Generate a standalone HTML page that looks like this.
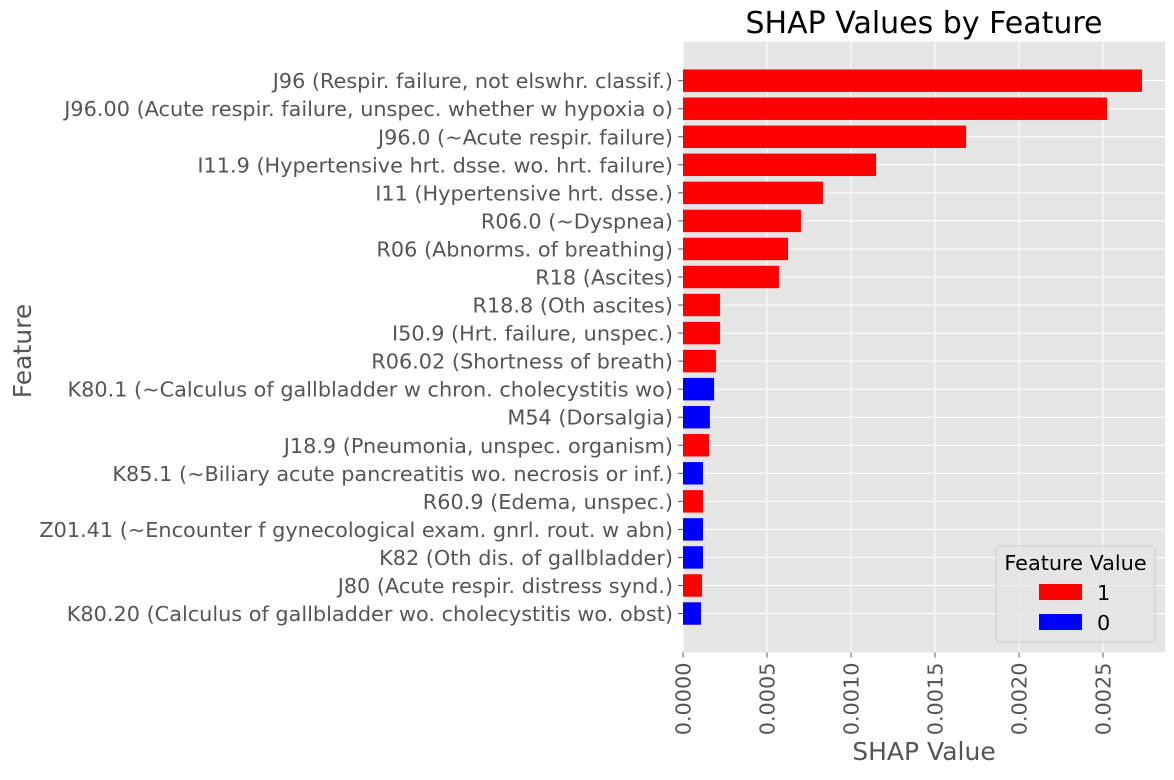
<!DOCTYPE html>
<html><head><meta charset="utf-8"><style>
body{margin:0;background:#fff;}
svg{font-family:"DejaVu Sans","Liberation Sans",sans-serif;}
</style></head><body>
<svg id="c" width="1174" height="775"></svg>
<script>
const features=["J96 (Respir. failure, not elswhr. classif.)","J96.00 (Acute respir. failure, unspec. whether w hypoxia o)","J96.0 (~Acute respir. failure)","I11.9 (Hypertensive hrt. dsse. wo. hrt. failure)","I11 (Hypertensive hrt. dsse.)","R06.0 (~Dyspnea)","R06 (Abnorms. of breathing)","R18 (Ascites)","R18.8 (Oth ascites)","I50.9 (Hrt. failure, unspec.)","R06.02 (Shortness of breath)","K80.1 (~Calculus of gallbladder w chron. cholecystitis wo)","M54 (Dorsalgia)","J18.9 (Pneumonia, unspec. organism)","K85.1 (~Biliary acute pancreatitis wo. necrosis or inf.)","R60.9 (Edema, unspec.)","Z01.41 (~Encounter f gynecological exam. gnrl. rout. w abn)","K82 (Oth dis. of gallbladder)","J80 (Acute respir. distress synd.)","K80.20 (Calculus of gallbladder wo. cholecystitis wo. obst)"];
const shapValues=[0.002732,0.002524,0.001685,0.001149,0.000833,0.000702,0.000625,0.000571,0.00022,0.00022,0.000196,0.000185,0.00016,0.000155,0.000119,0.000119,0.000119,0.000119,0.000113,0.000107];
const featureValues=[1,1,1,1,1,1,1,1,1,1,1,0,0,1,0,1,0,0,1,0];
const xTicks=[0,0.0005,0.001,0.0015,0.002,0.0025];
const xTickLabels=["0.0000","0.0005","0.0010","0.0015","0.0020","0.0025"];

const NS="http://www.w3.org/2000/svg";
const svg=document.getElementById('c');
const L=683,R=1165,T=41.7,B=652.5;
const x=v=>L+v/0.0005*84;
const n=features.length;
const unit=(B-T)/(n-1+0.8+2*0.99);
const y=i=>T+(0.99+0.4+i)*unit;
function mk(t,a,p){const e=document.createElementNS(NS,t);for(const k in a)e.setAttribute(k,a[k]);(p||svg).appendChild(e);return e;}

const bg=mk('rect',{x:L,y:T,width:R-L,height:B-T,fill:'#e5e5e5'});


xTicks.forEach((t,i)=>{
  const g=mk('line',{x1:x(t),x2:x(t),y1:T,y2:B,stroke:'#fff','stroke-width':1});
  
  
  const tk=mk('line',{x1:x(t),x2:x(t),y1:B,y2:B+5,stroke:'#555','stroke-width':1});
  
  
  const tx=mk('text',{x:0,y:0,transform:`translate(${x(t)+7.5},${B+10}) rotate(-90)`,'text-anchor':'end','font-size':20.8,fill:'#555'});
  tx.textContent=xTickLabels[i];
  
  
});
features.forEach((f,i)=>{
  const g=mk('line',{x1:L,x2:R,y1:y(i),y2:y(i),stroke:'#fff','stroke-width':1});
  
  
});
features.forEach((f,i)=>{
  const b=mk('rect',{x:L,y:y(i)-0.4*unit,width:x(shapValues[i])-L,height:0.8*unit,fill:featureValues[i]?'#ff0000':'#0000ff'});
  
  
  const tk=mk('line',{x1:L-5,x2:L,y1:y(i),y2:y(i),stroke:'#555','stroke-width':1});
  
  
  const t=mk('text',{x:L-10,y:y(i)+7.5,'text-anchor':'end','font-size':20.8,fill:'#555'});
  t.textContent=f;
  
  
});
const title=mk('text',{x:924,y:33,'text-anchor':'middle','font-size':30,fill:'#000'});
title.textContent='SHAP Values by Feature';


const xl=mk('text',{x:924,y:760,'text-anchor':'middle','font-size':25,fill:'#555'});
xl.textContent='SHAP Value';


const yl=mk('text',{x:0,y:0,transform:'translate(31,351) rotate(-90)','text-anchor':'middle','font-size':25,fill:'#555'});
yl.textContent='Feature';



const lg=mk('g',{});


mk('rect',{x:996,y:546,width:159,height:96,rx:4,fill:'#e5e5e5',stroke:'#d0d0d0','fill-opacity':0.8},lg);
const lt=mk('text',{x:1075.5,y:570,'text-anchor':'middle','font-size':20.8,fill:'#000'},lg);
lt.textContent='Feature Value';


[['1','#ff0000',592],['0','#0000ff',622]].forEach(([lab,col,cy])=>{
  const s=mk('rect',{x:1039,y:cy-8,width:43,height:16,fill:col},lg);
  
  
  const t=mk('text',{x:1097,y:cy+8,'font-size':20.8,fill:'#000'},lg);
  t.textContent=lab;
  
  
});
</script>
</body></html>
